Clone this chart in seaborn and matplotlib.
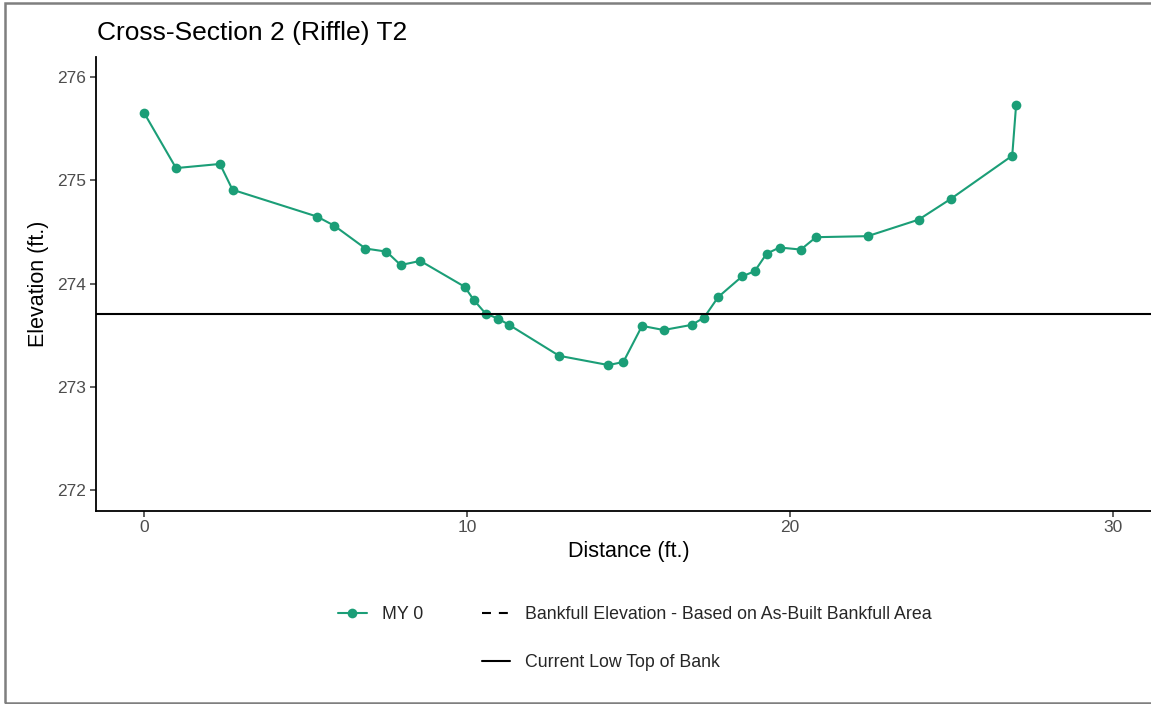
import matplotlib
matplotlib.use("Agg")
import matplotlib.pyplot as plt
from matplotlib.lines import Line2D
from matplotlib.patches import Rectangle
import seaborn as sns
import pandas as pd

distance = [0.0, 0.98, 2.34, 2.73, 5.35, 5.89, 6.85, 7.50, 7.94, 8.55, 9.92, 10.21,
            10.57, 10.96, 11.30, 12.85, 14.38, 14.84, 15.42, 16.09, 16.96, 17.34,
            17.78, 18.52, 18.91, 19.28, 19.68, 20.34, 20.81, 22.41, 23.99, 24.98,
            26.89, 27.01]
elevation = [275.65, 275.12, 275.16, 274.91, 274.65, 274.56, 274.34, 274.31, 274.18,
             274.22, 273.97, 273.84, 273.71, 273.66, 273.60, 273.30, 273.21, 273.24,
             273.59, 273.55, 273.60, 273.67, 273.87, 274.07, 274.12, 274.29, 274.35,
             274.33, 274.45, 274.46, 274.62, 274.82, 275.24, 275.73]
low_top_of_bank = 273.71
x_ticks = [0, 10, 20, 30]
y_ticks = [272, 273, 274, 275, 276]
title = "Cross-Section 2 (Riffle) T2"
series_label = "MY 0"
bankfull_label = "Bankfull Elevation - Based on As-Built Bankfull Area"
ltob_label = "Current Low Top of Bank"

sns.set_theme(style="ticks")
plt.rcParams["font.family"] = ["Liberation Sans", "DejaVu Sans"]

green = "#1b9e77"
df = pd.DataFrame({"Distance": distance, "Elevation": elevation})

fig = plt.figure(figsize=(11.51, 7.04), dpi=100)
ax = fig.add_axes([96 / 1151, (704 - 510.5) / 704, 1065 / 1151, 453.8 / 704])

sns.lineplot(data=df, x="Distance", y="Elevation", ax=ax, sort=False,
             color=green, linewidth=1.5, marker="o", markersize=7,
             markeredgewidth=0, label=series_label, legend=False)
ax.axhline(low_top_of_bank, color="black", linewidth=1.5)

ax.set_xlim(-1.5, 31.5)
ax.set_ylim(271.8, 276.2)
ax.set_xticks(x_ticks)
ax.set_yticks(y_ticks)
ax.tick_params(axis="both", direction="out", length=4, width=1.1, color="#333333",
               labelcolor="#4d4d4d", labelsize=12.5, pad=3)
ax.set_xlabel("Distance (ft.)", fontsize=15.5, color="black", labelpad=4)
ax.set_ylabel("Elevation (ft.)", fontsize=15.5, color="black", labelpad=6)
for s in ["top", "right"]:
    ax.spines[s].set_visible(False)
for s in ["left", "bottom"]:
    ax.spines[s].set_color("black")
    ax.spines[s].set_linewidth(1.3)

fig.text(97 / 1151, 1 - 33 / 704, title, fontsize=19, ha="left", va="center", color="black")

handles = [
    Line2D([], [], color=green, linewidth=1.5, marker="o", markersize=7, markeredgewidth=0),
    Line2D([], [], color="none"),
    Line2D([], [], color="black", linewidth=1.5, linestyle=(0, (4.3, 3.8))),
    Line2D([], [], color="black", linewidth=1.5),
]
labels = [series_label, "", bankfull_label, ltob_label]
leg = fig.legend(handles, labels, ncol=2, loc="center", bbox_to_anchor=(635 / 1151, 1 - 638.5 / 704),
                 frameon=False, fontsize=12.8, handlelength=1.6, handletextpad=0.85,
                 columnspacing=3.3, labelspacing=1.75)

fig.patches.append(Rectangle((4.5 / 1151, 1.5 / 704), 1.2, 1 - 4.5 / 704,
                             transform=fig.transFigure, fill=False,
                             edgecolor="#7f7f7f", linewidth=1.8))

fig.savefig("out.png", dpi=100)
